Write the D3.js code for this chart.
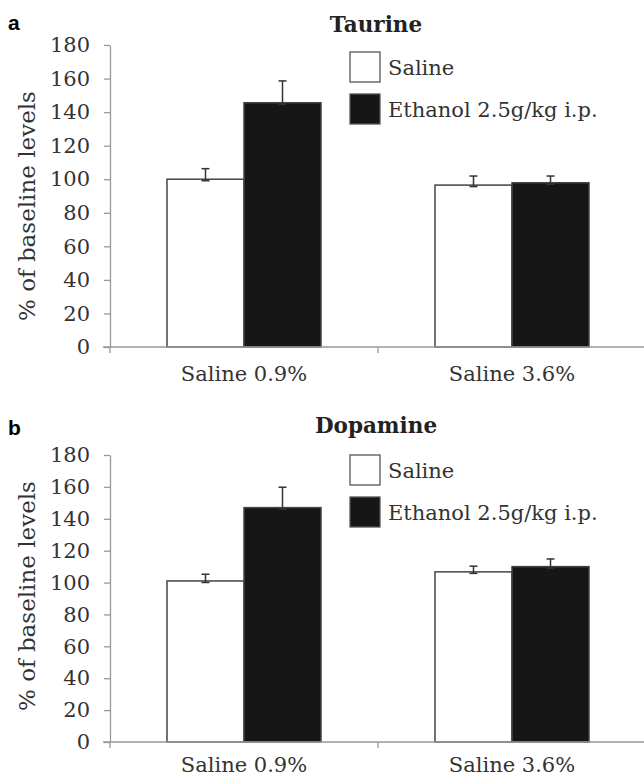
<!DOCTYPE html>
<html>
<head>
<meta charset="utf-8">
<script src="https://cdn.jsdelivr.net/npm/d3@7"></script>
<style>
  body { margin: 0; background: #fff; }
  svg { display: block; }
</style>
</head>
<body>
<svg id="viz" width="644" height="777"></svg>
<script>
const categories = ["Saline 0.9%", "Saline 3.6%"];
const series = ["Saline", "Ethanol 2.5g/kg i.p."];
const yTicks = [0, 20, 40, 60, 80, 100, 120, 140, 160, 180];

const taurineSaline = [100, 96.5];
const taurineSalineErr = [6.3, 5.4];
const taurineEthanol = [145.6, 97.9];
const taurineEthanolErr = [13, 4];

const dopamineSaline = [101, 106.7];
const dopamineSalineErr = [4.2, 3.6];
const dopamineEthanol = [147, 110];
const dopamineEthanolErr = [12.8, 4.8];

const svg = d3.select("#viz");
const serif = "'DejaVu Serif', serif";

function drawPanel(opts) {
  const g = svg.append("g");
  const left = 110, right = 646;
  const y = d3.scaleLinear().domain([0, 180]).range([opts.bottom, opts.top]);
  const x = d3.scaleBand().domain(categories).range([left, right]).padding(0);
  const xs = d3.scaleBand().domain(series).range([0, x.bandwidth()])
    .paddingInner(0).paddingOuter(0.74);

  // panel letter
  g.append("text")
    .attr("x", 8).attr("y", opts.letterY)
    .attr("font-family", "'Liberation Sans', Arial, sans-serif")
    .attr("font-weight", "bold").attr("font-size", "21px")
    .text(opts.letter);

  // title
  g.append("text")
    .attr("x", 376).attr("y", opts.titleY)
    .attr("text-anchor", "middle")
    .attr("font-family", serif).attr("font-weight", "bold")
    .attr("font-size", "21.5px").attr("fill", "#222")
    .text(opts.title);

  // y axis
  const yAxis = g.append("g")
    .attr("transform", `translate(${left},0)`)
    .call(d3.axisLeft(y).tickValues(yTicks).tickSize(6).tickPadding(14).tickSizeOuter(0));
  yAxis.selectAll("path, line").attr("stroke", "#999").attr("stroke-width", 1.3);
  yAxis.selectAll("text")
    .attr("font-family", serif).attr("font-size", "21px").attr("fill", "#333");

  // y label
  g.append("text")
    .attr("transform", `translate(35,${opts.labelY}) rotate(-90)`)
    .attr("text-anchor", "middle")
    .attr("font-family", serif).attr("font-size", "23px").attr("fill", "#333")
    .text("% of baseline levels");

  // bars
  const rows = categories.map((c, i) => [
    { cat: c, s: series[0], v: opts.saline[i], e: opts.salineErr[i] },
    { cat: c, s: series[1], v: opts.ethanol[i], e: opts.ethanolErr[i] }
  ]).flat();

  g.selectAll("rect.bar")
    .data(rows)
    .enter()
    .append("rect")
    .attr("class", "bar")
    .attr("x", d => x(d.cat) + xs(d.s))
    .attr("y", d => y(d.v))
    .attr("width", xs.bandwidth())
    .attr("height", d => y(0) - y(d.v))
    .attr("fill", d => d.s === series[0] ? "#fff" : "#161616")
    .attr("stroke", "#444")
    .attr("stroke-width", 1.5);

  // error bars
  const eb = g.selectAll("g.err")
    .data(rows)
    .enter()
    .append("g")
    .attr("class", "err")
    .attr("stroke", "#333")
    .attr("stroke-width", 1.5);
  const cx = d => x(d.cat) + xs(d.s) + xs.bandwidth() / 2;
  eb.append("line")
    .attr("x1", cx).attr("x2", cx)
    .attr("y1", d => y(d.v) + 1.5).attr("y2", d => y(d.v + d.e));
  eb.append("line")
    .attr("x1", d => cx(d) - 4).attr("x2", d => cx(d) + 4)
    .attr("y1", d => y(d.v + d.e)).attr("y2", d => y(d.v + d.e));
  eb.append("line")
    .attr("x1", d => cx(d) - 4).attr("x2", d => cx(d) + 4)
    .attr("y1", d => y(d.v) + 1.5).attr("y2", d => y(d.v) + 1.5);

  // x axis
  const xAxis = g.append("g")
    .attr("transform", `translate(0,${y(0)})`)
    .call(d3.axisBottom(x).tickSize(0).tickPadding(opts.catPad).tickSizeOuter(0));
  xAxis.select("path").remove();
  xAxis.selectAll("text")
    .attr("font-family", serif).attr("font-size", "21px").attr("fill", "#333");
  g.append("line")
    .attr("x1", left - 7).attr("x2", 644)
    .attr("y1", y(0)).attr("y2", y(0))
    .attr("stroke", "#999").attr("stroke-width", 1.3);
  g.selectAll("line.xtick")
    .data([left, x(categories[1])])
    .enter()
    .append("line")
    .attr("class", "xtick")
    .attr("x1", d => d).attr("x2", d => d)
    .attr("y1", y(0)).attr("y2", y(0) + 6)
    .attr("stroke", "#999").attr("stroke-width", 1.3);

  // legend
  const lg = g.selectAll("g.legend")
    .data(series)
    .enter()
    .append("g")
    .attr("class", "legend")
    .attr("transform", (d, i) => `translate(350,${opts.legendTop + i * 42})`);
  lg.append("rect")
    .attr("width", 30).attr("height", 30)
    .attr("fill", (d, i) => i === 0 ? "#fff" : "#161616")
    .attr("stroke", "#555").attr("stroke-width", 1.3);
  lg.append("text")
    .attr("x", 38).attr("y", 23)
    .attr("font-family", serif).attr("font-size", "21px").attr("fill", "#333")
    .text(d => d);
}

drawPanel({
  letter: "a", letterY: 30, title: "Taurine", titleY: 32,
  top: 45, bottom: 347, legendTop: 52, labelY: 206, catPad: 19,
  saline: taurineSaline, salineErr: taurineSalineErr,
  ethanol: taurineEthanol, ethanolErr: taurineEthanolErr
});

drawPanel({
  letter: "b", letterY: 435, title: "Dopamine", titleY: 433,
  top: 455, bottom: 742, legendTop: 455, labelY: 596, catPad: 15,
  saline: dopamineSaline, salineErr: dopamineSalineErr,
  ethanol: dopamineEthanol, ethanolErr: dopamineEthanolErr
});
</script>
</body>
</html>
